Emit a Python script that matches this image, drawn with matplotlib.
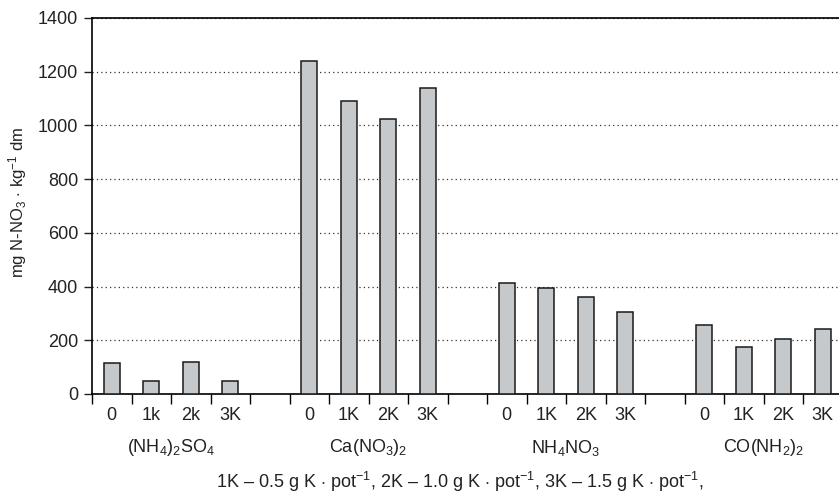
import matplotlib.pyplot as plt
from matplotlib.ticker import FixedLocator
import matplotlib.transforms as mtransforms

plt.rcParams['font.family'] = ['Liberation Sans', 'DejaVu Sans']
plt.rcParams['mathtext.fontset'] = 'custom'
plt.rcParams['mathtext.rm'] = 'Liberation Sans'
plt.rcParams['mathtext.it'] = 'Liberation Sans'

# data (mg N-NO3 per kg dm)
groups = [r'(NH$_4$)$_2$SO$_4$', r'Ca(NO$_3$)$_2$', r'NH$_4$NO$_3$', r'CO(NH$_2$)$_2$']
dose_labels = [
    ['0', '1k', '2k', '3K'],
    ['0', '1K', '2K', '3K'],
    ['0', '1K', '2K', '3K'],
    ['0', '1K', '2K', '3K'],
]
nh4_2so4 = [115, 48, 118, 48]
ca_no3_2 = [1239, 1091, 1024, 1138]
nh4no3 = [415, 396, 360, 307]
co_nh2_2 = [257, 176, 205, 241]
values = [nh4_2so4, ca_no3_2, nh4no3, co_nh2_2]

fig = plt.figure(figsize=(8.39, 4.95), dpi=100)
ax = fig.add_axes([92 / 839, 101 / 495, 1.0 - 92 / 839, 376 / 495])

# 4 bars per group with one empty slot between groups
positions = []
labels = []
heights = []
for g, vals in enumerate(values):
    for i, v in enumerate(vals):
        positions.append(g * 5 + i)
        labels.append(dose_labels[g][i])
        heights.append(v)

ax.bar(positions, heights, width=0.41, color='#c6c9cc', edgecolor='#1a1a1a',
       linewidth=1.1, zorder=3)

ax.set_ylim(0, 1400)
ax.set_xlim(-0.5, 18.41)
ax.set_yticks(range(0, 1401, 200))
ax.yaxis.grid(True, linestyle=(0, (1, 2.5)), color='#333333', linewidth=0.9, zorder=0)
ax.set_axisbelow(True)

fs = 13
ax.set_xticks(positions)
ax.set_xticklabels(labels)
ax.tick_params(axis='x', which='major', length=0, pad=9, labelsize=fs, colors='#222222')
ax.xaxis.set_minor_locator(FixedLocator([k - 0.5 for k in range(19)]))
ax.tick_params(axis='x', which='minor', length=7, width=1, direction='out')
ax.tick_params(axis='y', length=6, width=1, labelsize=fs, colors='#222222', pad=4)

ax.spines['right'].set_visible(False)
for s in ['left', 'top', 'bottom']:
    ax.spines[s].set_linewidth(1.2)

trans = mtransforms.blended_transform_factory(ax.transData, fig.transFigure)
for g, name in enumerate(groups):
    ax.text(g * 5 + 1.5, 1 - 448 / 495, name, transform=trans, ha='center',
            va='center', fontsize=fs, color='#222222')

ax.set_ylabel(r'mg N-NO$_3$ $\cdot$ kg$^{-1}$ dm', fontsize=12, color='#222222')
ax.yaxis.set_label_coords(-0.085, 0.51)

fig.text(460 / 839, 1 - 482 / 495,
         r'1K – 0.5 g K $\cdot$ pot$^{-1}$, 2K – 1.0 g K $\cdot$ pot$^{-1}$, 3K – 1.5 g K $\cdot$ pot$^{-1}$,',
         ha='center', va='center', fontsize=fs, color='#222222')

plt.savefig('out.png', dpi=100)
